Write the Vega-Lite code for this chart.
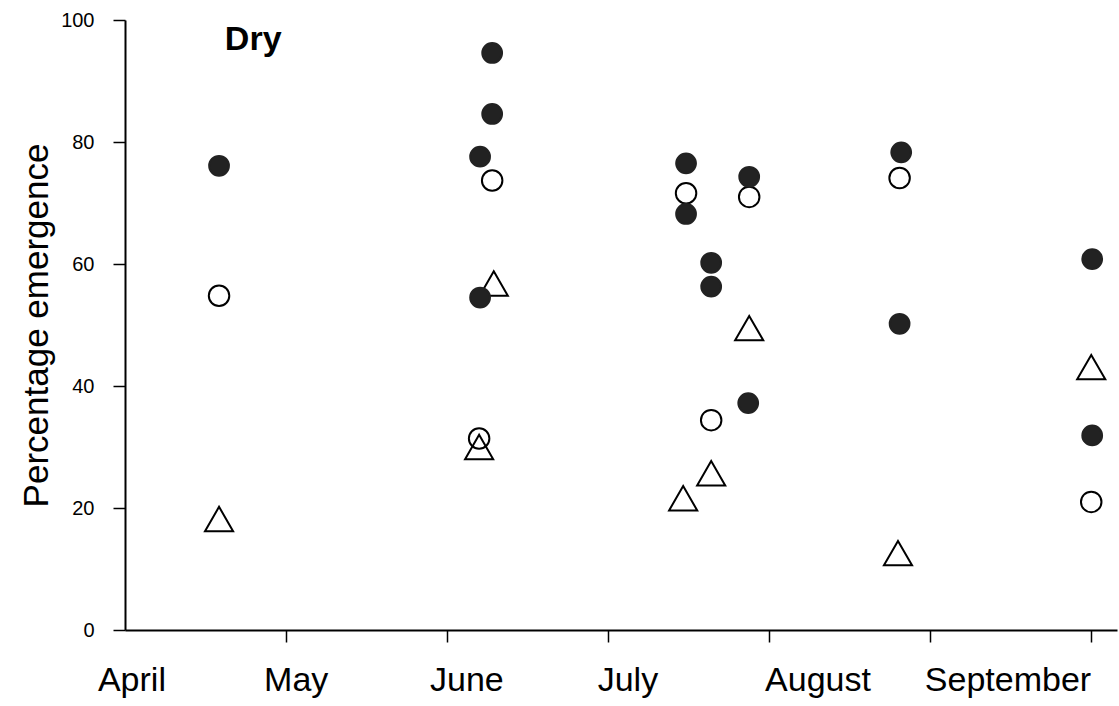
{
  "$schema": "https://vega.github.io/schema/vega-lite/v6.json",
  "width": 992,
  "height": 610,
  "autosize": {"type": "none"},
  "padding": {"left": 125, "top": 20, "right": 2, "bottom": 76},
  "background": "white",
  "config": {
    "font": "Liberation Sans",
    "view": {"stroke": null},
    "axis": {
      "grid": false,
      "domainColor": "#000000",
      "domainWidth": 2,
      "tickColor": "#000000",
      "tickWidth": 1.5,
      "labelColor": "#000000",
      "titleColor": "#000000"
    }
  },
  "layer": [
    {
      "data": {
        "values": [
          {"month": 0.584, "pct": 54.8, "symbol": "open"},
          {"month": 2.28, "pct": 73.7, "symbol": "open"},
          {"month": 2.199, "pct": 31.4, "symbol": "open"},
          {"month": 3.484, "pct": 71.6, "symbol": "open"},
          {"month": 3.64, "pct": 34.4, "symbol": "open"},
          {"month": 3.876, "pct": 71.0, "symbol": "open"},
          {"month": 4.81, "pct": 74.1, "symbol": "open"},
          {"month": 6.0, "pct": 21.0, "symbol": "open"},
          {"month": 0.584, "pct": 18.2, "symbol": "triangle"},
          {"month": 2.29, "pct": 56.8, "symbol": "triangle"},
          {"month": 2.199, "pct": 30.0, "symbol": "triangle"},
          {"month": 3.466, "pct": 21.6, "symbol": "triangle"},
          {"month": 3.64, "pct": 25.7, "symbol": "triangle"},
          {"month": 3.876, "pct": 49.5, "symbol": "triangle"},
          {"month": 4.8, "pct": 12.6, "symbol": "triangle"},
          {"month": 6.0, "pct": 43.1, "symbol": "triangle"},
          {"month": 0.584, "pct": 76.1, "symbol": "filled"},
          {"month": 2.28, "pct": 94.6, "symbol": "filled"},
          {"month": 2.28, "pct": 84.6, "symbol": "filled"},
          {"month": 2.205, "pct": 77.6, "symbol": "filled"},
          {"month": 2.205, "pct": 54.5, "symbol": "filled"},
          {"month": 3.484, "pct": 76.5, "symbol": "filled"},
          {"month": 3.484, "pct": 68.2, "symbol": "filled"},
          {"month": 3.64, "pct": 60.2, "symbol": "filled"},
          {"month": 3.64, "pct": 56.3, "symbol": "filled"},
          {"month": 3.876, "pct": 74.3, "symbol": "filled"},
          {"month": 3.87, "pct": 37.2, "symbol": "filled"},
          {"month": 4.82, "pct": 78.3, "symbol": "filled"},
          {"month": 4.81, "pct": 50.2, "symbol": "filled"},
          {"month": 6.006, "pct": 60.8, "symbol": "filled"},
          {"month": 6.006, "pct": 31.9, "symbol": "filled"}
        ]
      },
      "mark": {"type": "point", "strokeWidth": 2, "opacity": 1, "filled": false},
      "encoding": {
        "x": {
          "field": "month",
          "type": "quantitative",
          "scale": {"domain": [0, 6.16], "nice": false, "zero": false},
          "axis": {"orient": "bottom", "values": [1, 2, 3, 4, 5, 6], "labels": false, "tickSize": 12, "title": null}
        },
        "y": {
          "field": "pct",
          "type": "quantitative",
          "scale": {"domain": [0, 100], "nice": false},
          "axis": {
            "values": [0, 20, 40, 60, 80, 100],
            "title": "Percentage emergence",
            "tickSize": 12,
            "labelFontSize": 20,
            "labelPadding": 19,
            "titleFontSize": 35,
            "titleFontWeight": "normal",
            "titlePadding": 6
          }
        },
        "shape": {
          "field": "symbol",
          "type": "nominal",
          "scale": {"domain": ["filled", "open", "triangle"], "range": ["circle", "circle", "triangle-up"]},
          "legend": null
        },
        "fill": {
          "field": "symbol",
          "type": "nominal",
          "scale": {"domain": ["filled", "open", "triangle"], "range": ["#222222", "transparent", "transparent"]},
          "legend": null
        },
        "stroke": {
          "field": "symbol",
          "type": "nominal",
          "scale": {"domain": ["filled", "open", "triangle"], "range": ["#222222", "#000000", "#000000"]},
          "legend": null
        },
        "size": {
          "field": "symbol",
          "type": "nominal",
          "scale": {"type": "ordinal", "domain": ["filled", "open", "triangle"], "range": [390, 420, 790]},
          "legend": null
        }
      }
    },
    {
      "data": {"values": [{"month": 0.62, "pct": 95.1, "label": "Dry"}]},
      "mark": {"type": "text", "align": "left", "baseline": "alphabetic", "fontSize": 34, "fontWeight": "bold", "color": "#000000"},
      "encoding": {
        "x": {
          "field": "month",
          "type": "quantitative",
          "axis": {
            "orient": "bottom",
            "values": [0.04, 1.06, 2.12, 3.12, 4.3, 5.48],
            "ticks": false,
            "tickSize": 0,
            "domain": false,
            "labelExpr": "datum.value < 0.5 ? 'April' : datum.value < 1.5 ? 'May' : datum.value < 2.5 ? 'June' : datum.value < 3.5 ? 'July' : datum.value < 4.8 ? 'August' : 'September'",
            "labelFontSize": 34,
            "labelPadding": 33,
            "labelFlush": false,
            "labelOverlap": false,
            "labelBound": false,
            "title": null
          }
        },
        "y": {
          "field": "pct",
          "type": "quantitative",
          "axis": {
            "values": [0, 20, 40, 60, 80, 100],
            "title": "Percentage emergence",
            "tickSize": 12,
            "labelFontSize": 20,
            "labelPadding": 19,
            "titleFontSize": 35,
            "titleFontWeight": "normal",
            "titlePadding": 6
          }
        },
        "text": {"field": "label", "type": "nominal"}
      }
    }
  ],
  "resolve": {"axis": {"x": "independent"}}
}
